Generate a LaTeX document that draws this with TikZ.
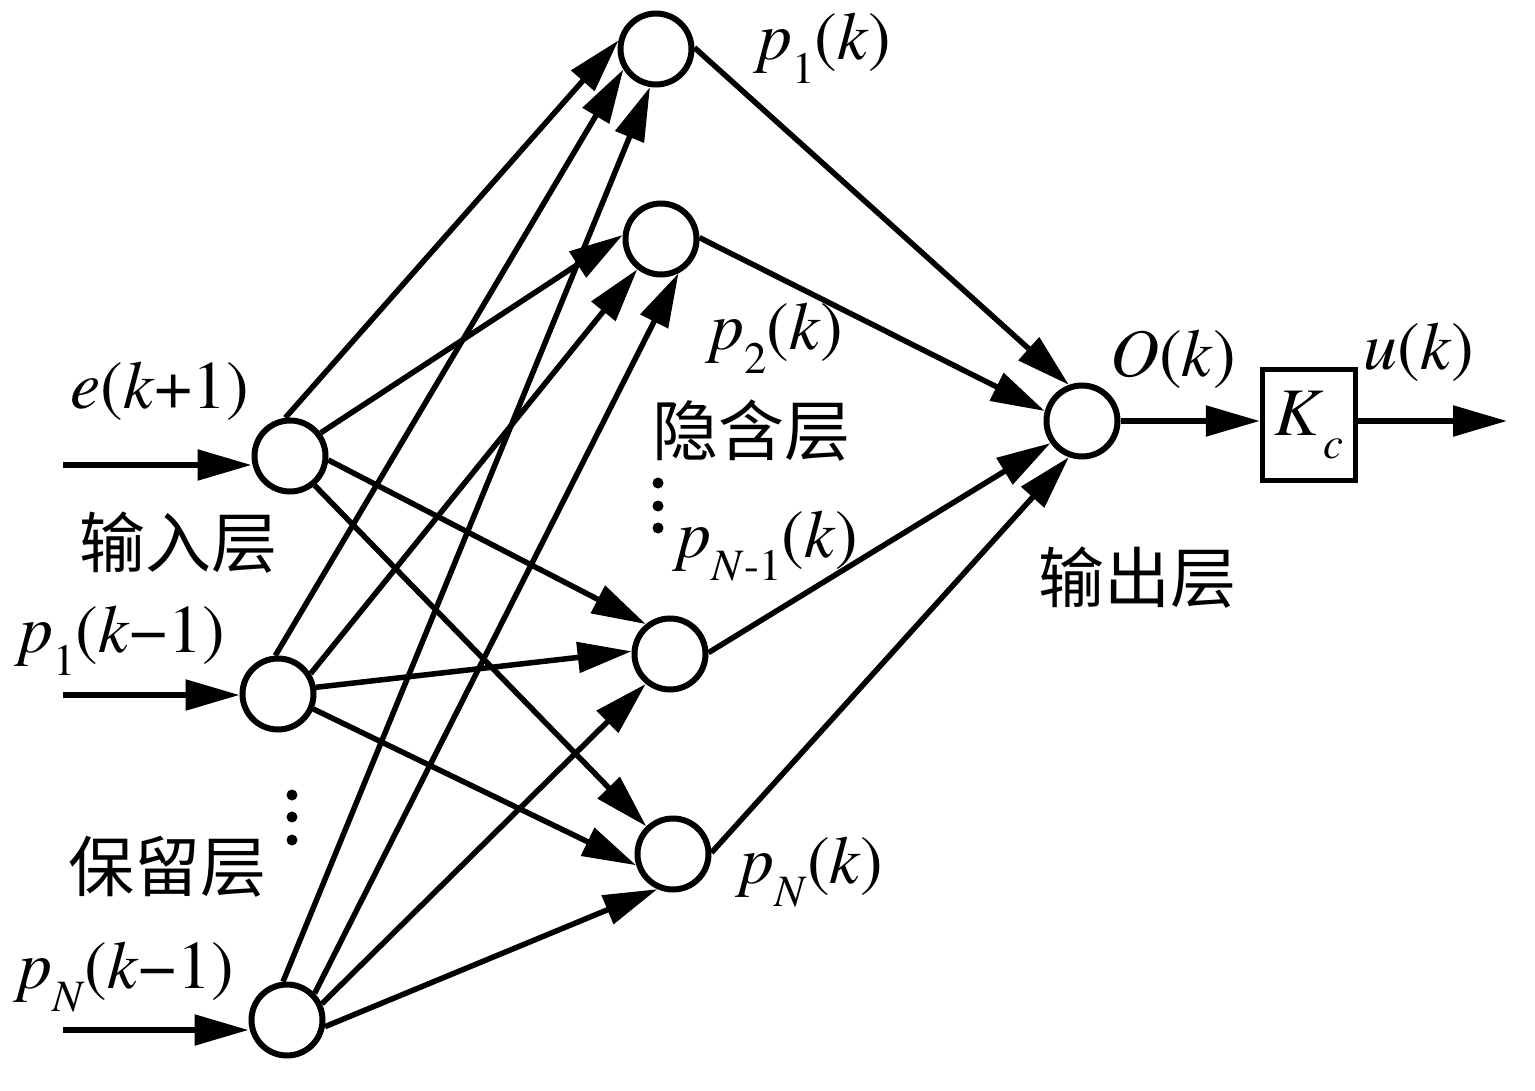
\documentclass[tikz,border=0pt]{standalone}
\usepackage{fontspec}
\usepackage{graphicx}
\newfontfamily\tnr{texgyretermes}[Extension=.otf,UprightFont=*-regular,ItalicFont=*-italic,BoldFont=*-bold,BoldItalicFont=*-bolditalic]
\newfontfamily\cjk{Noto Sans CJK SC}
\usetikzlibrary{arrows.meta}
\newcommand\subs[1]{\raisebox{-0.34em}{\scalebox{0.66}{#1}}}
\begin{document}
\begin{tikzpicture}[x=1pt,y=-1pt,
  neuron/.style={circle,draw,line width=6pt,minimum size=71pt,inner sep=0pt,fill=white},
  arr/.style={line width=5.5pt,-{Triangle[length=54pt,width=30pt]}},
  lbl/.style={inner sep=0pt,font=\tnr\fontsize{68}{80}\selectfont},
  clbl/.style={inner sep=0pt,font=\cjk\fontsize{66}{72}\selectfont},
  dotm/.style={circle,fill,inner sep=0pt,minimum size=11pt},
  gainbox/.style={draw,line width=5.5pt,minimum width=93pt,minimum height=111pt,inner sep=0pt,font=\tnr\fontsize{68}{80}\selectfont}]
\useasboundingbox (0,0) rectangle (1535,1091);
% neurons
\node[neuron] (I1) at (290,456) {};
\node[neuron] (I2) at (278,694) {};
\node[neuron] (I3) at (287,1020) {};
\node[neuron] (H1) at (656,49) {};
\node[neuron] (H2) at (661,239) {};
\node[neuron] (H3) at (670,654) {};
\node[neuron] (H4) at (673,854) {};
\node[neuron] (O) at (1082,421) {};
\node[gainbox] (K) at (1309,425) {\textit{K}\subs{\textit{c}}};
% inputs
\coordinate (a1) at (63,465);
\coordinate (a2) at (63,695);
\coordinate (a3) at (63,1030);
\coordinate (out) at (1507,421);
\draw[arr] (a1) -- (a1 -| I1.west);
\draw[arr] (a2) -- (a2 -| I2.west);
\draw[arr] (a3) -- (a3 -| I3.west);
% input -> hidden
\draw[arr] (I1.97) -- (H1.167);
\draw[arr] (I1.37) -- (H2.174);
\draw[arr] (I1.-6) -- (H3.129);
\draw[arr] (I1.-50) -- (H4.134);
\draw[arr] (I2.94) -- (H1.212);
\draw[arr] (I2.32) -- (H2.232);
\draw[arr] (I2.10) -- (H3.176);
\draw[arr] (I2.-23) -- (H4.197);
\draw[arr] (I3.96) -- (H1.261);
\draw[arr] (I3.44) -- (H2.297);
\draw[arr] (I3.25) -- (H3.231);
\draw[arr] (I3.-10) -- (H4.246);
% hidden -> output
\draw[arr] (H1.2) -- (O.110);
\draw[arr] (H2.2) -- (O.165);
\draw[arr] (H3.2) -- (O.215);
\draw[arr] (H4.2) -- (O.250);
\draw[arr] (O) -- (O -| K.west);
\draw[arr] (K.east |- O) -- (out);
% labels
\node[lbl,anchor=base] (le) at (160,408) {\textit{e}(\textit{k}+1)};
\node[lbl,anchor=base] (lp1m) at (122,652) {\textit{p}\subs{1}(\textit{k}−1)};
\node[lbl,anchor=base] (lpNm) at (126,988) {\textit{p}\subs{\textit{N}}(\textit{k}−1)};
\node[lbl,anchor=base] (lp1) at (825,60) {\textit{p}\subs{1}(\textit{k})};
\node[lbl,anchor=base] (lp2) at (777,350) {\textit{p}\subs{2}(\textit{k})};
\node[lbl,anchor=base] (lpN1) at (768,557) {\textit{p}\subs{\textit{N}-1}(\textit{k})};
\node[lbl,anchor=base] (lpN) at (812,883) {\textit{p}\subs{\textit{N}}(\textit{k})};
\node[lbl,anchor=base] (lO) at (1173,377) {\textit{O}(\textit{k})};
\node[lbl,anchor=base] (lu) at (1419,370) {\textit{u}(\textit{k})};
\node[clbl] (cin) at (178,543) {输入层};
\node[clbl] (cout) at (1137,578) {输出层};
\node[clbl] (cmem) at (167,867) {保留层};
\node[clbl] (chid) at (751,431) {隐含层};
% dots
\node[dotm] (d1) at (292,795) {};
\node[dotm] (d2) at (292,817) {};
\node[dotm] (d3) at (292,840) {};
\node[dotm] (d4) at (658,483) {};
\node[dotm] (d5) at (658,506) {};
\node[dotm] (d6) at (658,528) {};
\end{tikzpicture}
\end{document}
